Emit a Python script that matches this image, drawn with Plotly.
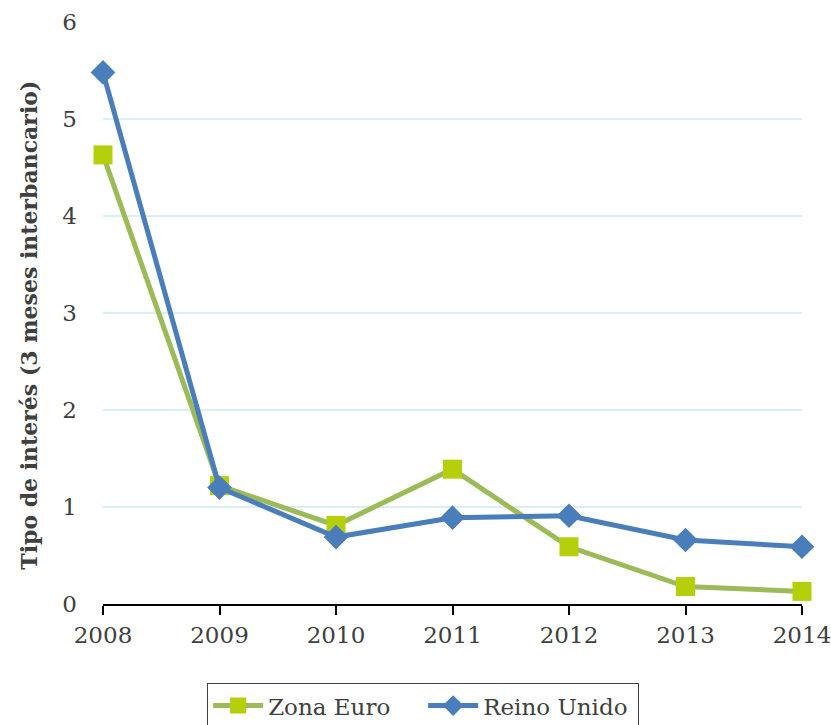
import plotly.graph_objects as go

years = [2008, 2009, 2010, 2011, 2012, 2013, 2014]
zona_euro = [4.63, 1.22, 0.81, 1.39, 0.59, 0.18, 0.13]
reino_unido = [5.48, 1.20, 0.69, 0.89, 0.91, 0.66, 0.59]
y_ticks = [0, 1, 2, 3, 4, 5, 6]
y_title = "Tipo de interés (3 meses interbancario)"

FONT = "DejaVu Serif"

fig = go.Figure()
fig.add_trace(go.Scatter(
    x=years, y=zona_euro, name="Zona Euro", mode="lines+markers",
    line=dict(color="#9bbb59", width=5),
    marker=dict(symbol="square", size=19, color="#b5cf0b"),
))
fig.add_trace(go.Scatter(
    x=years, y=reino_unido, name="Reino Unido", mode="lines+markers",
    line=dict(color="#4a7ebb", width=5),
    marker=dict(symbol="diamond", size=19, color="#4a7ebb"),
))

fig.add_annotation(
    text="<b>" + y_title + "</b>", textangle=-90,
    xref="paper", yref="paper", x=-0.107, y=0.4785,
    xanchor="center", yanchor="middle", showarrow=False,
    font=dict(size=22, color="#404040", family=FONT),
)

fig.update_layout(
    width=831, height=725,
    paper_bgcolor="white", plot_bgcolor="white",
    margin=dict(l=103, r=29, t=22, b=121, autoexpand=False),
    font=dict(family=FONT, color="#404040", size=23),
    showlegend=True,
    legend=dict(
        orientation="h", x=0.458, xanchor="center", y=-0.136, yanchor="top",
        bordercolor="#404040", borderwidth=1,
        font=dict(family=FONT, size=23, color="#404040"),
        entrywidth=150, itemwidth=50,
    ),
    xaxis=dict(
        range=[2008, 2014], tickvals=years, ticktext=[str(y) for y in years],
        showgrid=False, showline=True, linecolor="black", linewidth=2,
        ticks="outside", ticklen=9, tickwidth=2, tickcolor="black",
        tickfont=dict(size=23, color="#404040"),
        zeroline=False, automargin=False, ticklabeloverflow="allow",
    ),
    yaxis=dict(
        range=[0, 6], tickvals=y_ticks,
        showgrid=True, gridcolor="#d9eef6", gridwidth=2,
        showline=False, zeroline=False, automargin=False,
        ticklabelstandoff=25,
        tickfont=dict(size=23, color="#404040"),
    ),
)
fig.update_traces(cliponaxis=False)

fig.write_html(
    "out.html",
    config={"displayModeBar": False},
    post_script="document.body.style.margin='0';document.body.style.overflow='hidden';",
)
